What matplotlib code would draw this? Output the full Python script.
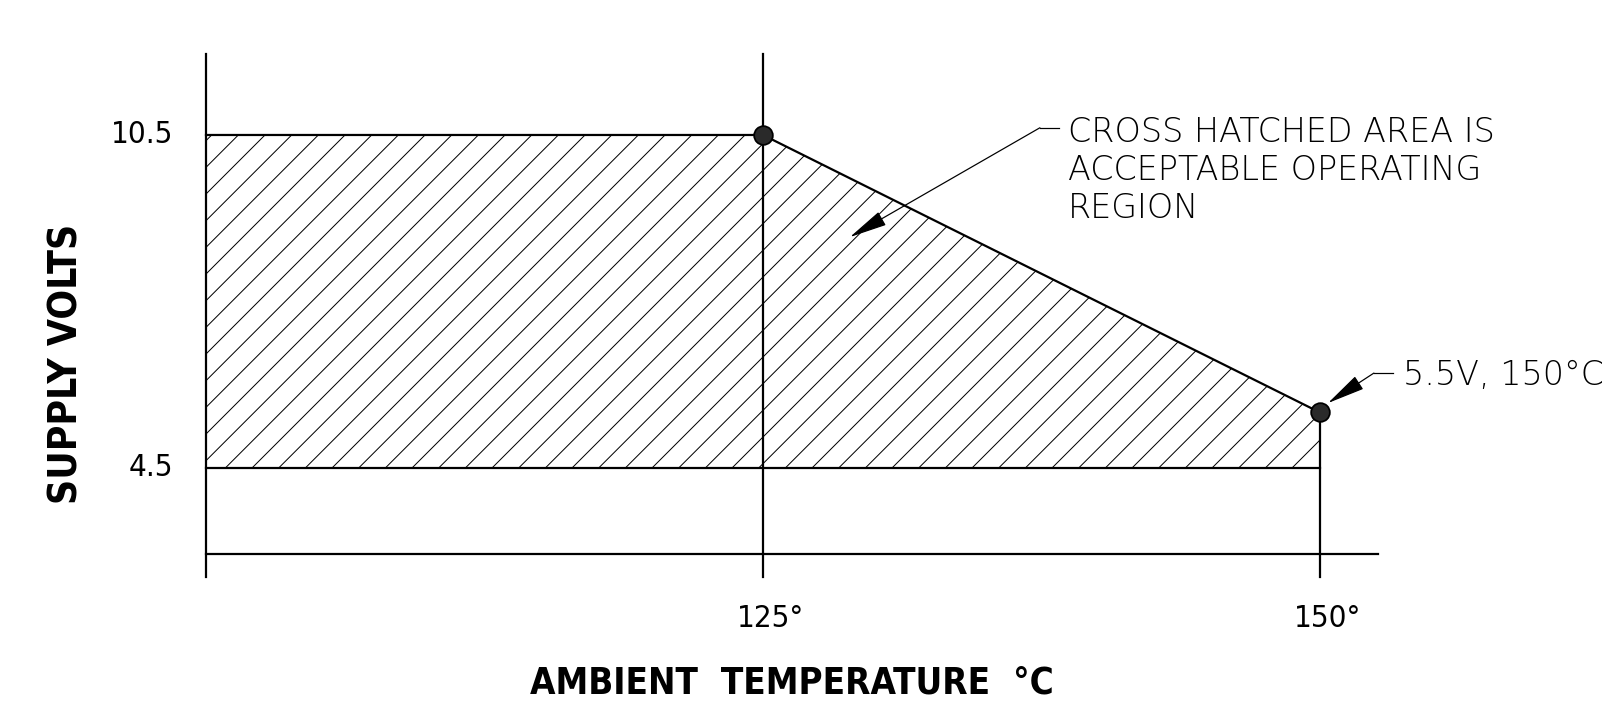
import matplotlib
matplotlib.use("Agg")
import matplotlib.pyplot as plt

# Operating region: supply volts vs ambient temperature
temps = [100, 125, 150]          # deg C
volts_max = [10.5, 10.5, 5.5]    # upper limit of supply
volt_min = 4.5                   # lower limit of supply

x_ticks = [125, 150]
x_labels = ["125°", "150°"]
y_ticks = [10.5, 4.5]
y_labels = ["10.5", "4.5"]

note_text = "CROSS HATCHED AREA IS\nACCEPTABLE OPERATING\nREGION"
point_text = "5.5V, 150°C"

plt.rcParams['hatch.linewidth'] = 0.45
fam = ['DejaVu Sans']

DPI = 160
fig = plt.figure(figsize=(1602 / DPI, 701 / DPI), dpi=DPI)
ax = fig.add_axes([0, 0, 1, 1])
ax.set_xlim(90.754, 162.66)
ax.set_ylim(0.302, 12.932)
ax.axis('off')

lw = 1.0
# frame lines (drawing style, not data)
ax.plot([100, 100], [2.536, 11.96], color='black', lw=lw)
ax.plot([125, 125], [2.536, 11.96], color='black', lw=lw)
ax.plot([150, 150], [2.536, volts_max[-1]], color='black', lw=lw)
ax.plot([100, 152.6], [2.95, 2.95], color='black', lw=lw)

# hatched region
ax.fill_between(temps, volt_min, volts_max, facecolor='none',
                edgecolor='black', hatch='//', linewidth=0)
ax.plot(temps, volts_max, color='black', lw=lw)
ax.plot([temps[0], temps[-1]], [volt_min, volt_min], color='black', lw=lw)

# corner points
ax.plot(temps[1:], volts_max[1:], 'o', ms=8.4, mfc='#2a2a2a',
        mec='black', mew=0.8, zorder=5)

# tick labels
for y, lab in zip(y_ticks, y_labels):
    ax.text(98.52, y, lab, ha='right', va='center', fontsize=14,
            family=fam, fontweight='light', fontstretch='condensed')
for x, lab in zip(x_ticks, x_labels):
    ax.text(x + 0.35, 1.78, lab, ha='center', va='center', fontsize=14,
            family=fam, fontweight='light', fontstretch='condensed')

# axis titles
ax.text(93.72, 6.37, "SUPPLY VOLTS", rotation=90, ha='center', va='center',
        fontsize=17.5, fontweight='bold', family=fam, fontstretch='condensed')
ax.text(126.3, 0.62, "AMBIENT  TEMPERATURE  °C", ha='center', va='center',
        fontsize=16.5, fontweight='bold', family=fam, fontstretch='condensed')

# callouts
arrow = dict(arrowstyle='-|>,head_length=1.5,head_width=0.3',
             color='black', lw=0.55, mutation_scale=10, shrinkA=0, shrinkB=0)
ax.plot([137.43, 138.29], [10.63, 10.63], color='black', lw=0.55)
ax.annotate('', xy=(128.9, 8.66), xytext=(137.43, 10.63), arrowprops=arrow)
ax.text(138.69, 9.0, note_text, ha='left', va='baseline', fontsize=15,
        family=fam, fontweight='light', linespacing=1.2)

ax.plot([152.42, 153.28], [6.21, 6.21], color='black', lw=0.55)
ax.annotate('', xy=(150.36, 5.67), xytext=(152.42, 6.21), arrowprops=arrow)
ax.text(153.72, 5.995, point_text, ha='left', va='baseline', fontsize=15,
        family=fam, fontweight='light')

fig.savefig("out.png", dpi=DPI)
